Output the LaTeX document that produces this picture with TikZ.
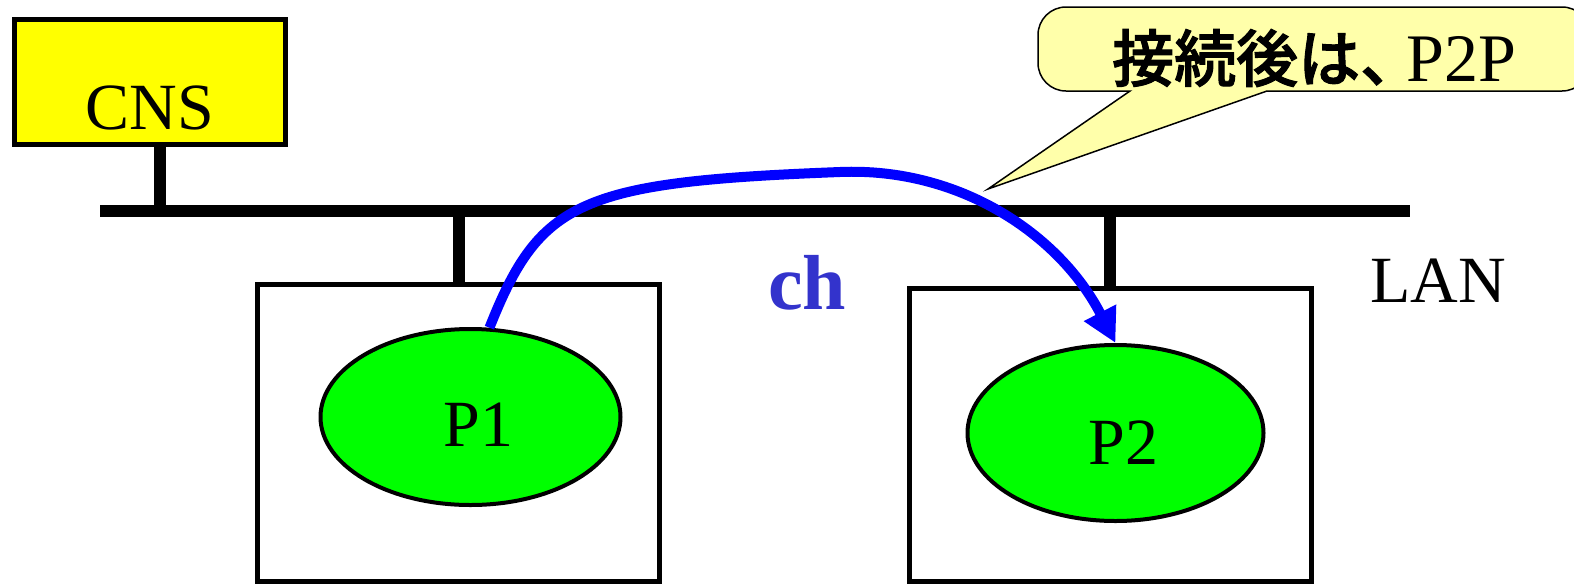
\documentclass[tikz,border=0pt]{standalone}
\usepackage{fontspec}
\setmainfont{Liberation Serif}
\newfontfamily\jpfont{Noto Sans CJK JP Medium}[FakeBold=1.6]
\usetikzlibrary{positioning,arrows.meta,shapes.geometric}
\definecolor{cnsyellow}{RGB}{255,255,0}
\definecolor{procgreen}{RGB}{0,255,0}
\definecolor{chblue}{RGB}{51,51,204}
\definecolor{flowblue}{RGB}{0,0,255}
\definecolor{balloon}{RGB}{255,255,170}

\begin{document}
\begin{tikzpicture}[x=0.5pt, y=-0.5pt,
    server/.style={rectangle, draw=black, line width=2.5pt, fill=cnsyellow,
                   minimum width=135.5pt, minimum height=62.5pt, inner sep=0pt},
    host/.style={rectangle, draw=black, line width=2.5pt, fill=white,
                 minimum width=201pt, inner sep=0pt},
    proc/.style={ellipse, draw=black, line width=2pt, fill=procgreen,
                 inner sep=0pt, minimum width=150pt, minimum height=88pt},
    bigtext/.style={font=\fontsize{33}{38}\selectfont},
    bus/.style={line width=6pt},
    stem/.style={line width=6pt},
    flow/.style={-{Triangle[length=17pt,width=17pt]}, line width=5pt, flowblue},
    balloonbox/.style={draw=black, line width=0.75pt, fill=balloon}
]
\useasboundingbox (0,0) rectangle (1574,584);

% hosts and processes
\node[host, minimum height=148.5pt] (p1box) at (458.5,433) {};
\node[host, minimum height=146.5pt] (p2box) at (1110,435) {};
\node[proc, label={[bigtext, xshift=4pt, yshift=-4pt]center:P1}] (p1) at (470.5,417) {};
\node[proc, minimum width=148pt, label={[bigtext, xshift=4pt, yshift=-5pt]center:P2}] (p2) at (1115.5,433) {};

% server
\node[server, label={[bigtext, yshift=-13pt]center:CNS}] (cns) at (150,82) {};

% LAN
\coordinate (lanL) at (100,211);
\coordinate (lanR) at (1410,211);
\draw[bus] (lanL) -- (lanR);
\draw[stem] ([xshift=5pt]cns.south) -- ([xshift=5pt]cns.south |- lanL);
\draw[stem] (p1box.north) -- (p1box.north |- lanL);
\draw[stem] (p2box.north) -- (p2box.north |- lanL);
\node[bigtext] (lan) at (1438,281) {LAN};
\node[font=\fontsize{39}{44}\selectfont\bfseries, text=chblue] (ch) at (807,283) {ch};

% channel
\draw[flow] (p1.78) .. controls (540,200) and (580,182) .. (840,172)
    .. controls (960,167) and (1060,235) .. (p2.north);

% balloon
\coordinate (tip) at (988,189);
\draw[balloonbox] (tip) -- (1267,91) [rounded corners=14pt] -- (1590,91) -- (1590,7)
    -- (1038,7) -- (1038,91) [sharp corners] -- (1130,91) -- cycle;
\node (note) at (1314,58) {\fontsize{31}{36}\selectfont\jpfont 接続後は、\kern-8pt\fontsize{34}{38}\selectfont\rmfamily P2P};
\end{tikzpicture}
\end{document}
